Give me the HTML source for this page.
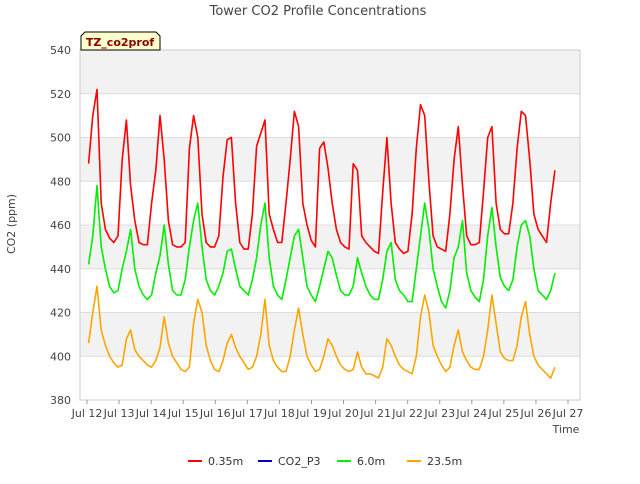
<!DOCTYPE html>
<html><head><meta charset="utf-8"><style>
body{margin:0;background:#fff;font-family:"DejaVu Sans","Liberation Sans",sans-serif;}
svg text{font-family:"DejaVu Sans","Liberation Sans",sans-serif;}
</style></head><body>
<svg id="chart" width="640" height="480" xmlns="http://www.w3.org/2000/svg">
<text x="318" y="15" text-anchor="middle" font-size="13" fill="#444">Tower CO2 Profile Concentrations</text>
<g id="bands"></g>
<g id="grid"></g>
<rect x="80" y="50" width="500" height="350" fill="none" stroke="#ccc"/>
<g id="yticks"></g><g id="xticks"></g>
<g id="series"></g>
<text x="15" y="224" transform="rotate(-90 15 224)" text-anchor="middle" font-size="11" fill="#444">CO2 (ppm)</text>
<text x="566" y="433" text-anchor="middle" font-size="11" fill="#444">Time</text>
<g>
<path d="M81,50 L81,36 L85,32 L156,32 L160,36 L160,50 Z" fill="#ffffcc" stroke="#000"/>
<text x="120" y="46" text-anchor="middle" font-size="11" font-weight="bold" fill="#8b0000">TZ_co2prof</text>
</g>
<g id="legend"></g>
</svg>
<script>
const NS="http://www.w3.org/2000/svg";
const startDay=12.05, stepDay=0.131;
const yTicks=[380,400,420,440,460,480,500,520,540];
const xTickDays=[12,13,14,15,16,17,18,19,20,21,22,23,24,25,26,27];
const xTickLabels=["Jul 12","Jul 13","Jul 14","Jul 15","Jul 16","Jul 17","Jul 18","Jul 19","Jul 20","Jul 21","Jul 22","Jul 23","Jul 24","Jul 25","Jul 26","Jul 27"];
const seriesNames=["0.35m","CO2_P3","6.0m","23.5m"];
const red=[488,510,522,470,458,454,452,455, 490,508,478,462,452,451,451,470, 485,510,490,462,451,450,450,452, 495,510,500,465,452,450,450,455, 482,499,500,470,452,449,449,465, 496,502,508,465,458,452,452,470, 490,512,505,470,460,453,450,495, 498,486,470,458,452,450,449,488, 485,455,452,450,448,447,475,500, 470,452,449,447,448,465,495,515, 510,480,455,450,449,448,465,490, 505,478,455,451,451,452,475,500, 505,470,458,456,456,470,495,512, 510,490,465,458,455,452,470,485];
const p3=[];
const green=[442,455,478,450,440,432,429,430, 440,448,458,440,432,428,426,428, 438,446,460,442,430,428,428,435, 450,462,470,450,435,430,428,432, 438,448,449,440,432,430,428,435, 445,460,470,445,432,428,426,435, 445,455,458,445,432,428,425,432, 440,448,445,437,430,428,428,432, 445,438,432,428,426,426,435,448, 452,435,430,428,425,425,440,455, 470,458,440,432,425,422,430,445, 450,462,438,430,427,425,435,455, 468,450,436,432,430,435,450,460, 462,455,440,430,428,426,430,438];
const orange=[406,420,432,412,405,400,397,395, 396,408,412,403,400,398,396,395, 398,404,418,406,400,397,394,393, 395,415,426,420,405,398,394,393, 398,406,410,404,400,397,394,395, 400,410,426,405,398,395,393,393, 400,412,422,410,400,396,393,394, 400,408,405,400,396,394,393,394, 402,395,392,392,391,390,395,408, 405,400,396,394,393,392,400,418, 428,420,405,400,396,393,395,405, 412,402,398,395,394,394,400,412, 428,415,402,399,398,398,405,418, 425,410,400,396,394,392,390,395];
const colors=["#ff0000","#0000cc","#00ee00","#ffa500"];
const X0=80,X1=580,Y0=400,Y1=50;
const xs=d=>87+(d-12)*(568-87)/15;
const ys=v=>Y0-(v-380)/(540-380)*(Y0-Y1);
const mk=(t,a,p)=>{const e=document.createElementNS(NS,t);for(const k in a)e.setAttribute(k,a[k]);(p||document.getElementById('chart')).appendChild(e);return e;};
const bands=document.getElementById('bands');
for(let i=0;i<yTicks.length-1;i+=2){const r=mk('rect',{x:X0,y:ys(yTicks[i+1]+20>540?540:yTicks[i+1]+20),width:X1-X0,height:ys(yTicks[i+1])-ys(yTicks[i+1]+20),fill:'#f2f2f2'},bands);

}
const grid=document.getElementById('grid'),yt=document.getElementById('yticks');
yTicks.forEach(v=>{const l=mk('line',{x1:X0,x2:X1,y1:ys(v),y2:ys(v),stroke:'#ddd'},grid);


const t=mk('text',{x:71,y:ys(v)+4,'text-anchor':'end','font-size':11,fill:'#444'},yt);t.textContent=v;

});
const xt=document.getElementById('xticks');
xTickDays.forEach((d,i)=>{const l=mk('line',{x1:xs(d),x2:xs(d),y1:Y0,y2:Y0+4,stroke:'#999'},xt);


const t=mk('text',{x:xs(d),y:417,'text-anchor':'middle','font-size':11,fill:'#444'},xt);t.textContent=xTickLabels[i];

});
const sg=document.getElementById('series');
[red,p3,green,orange].forEach((arr,si)=>{if(!arr.length)return;
const pts=arr.map((v,i)=>xs(startDay+i*stepDay).toFixed(1)+','+ys(v).toFixed(1)).join(' ');
const pl=mk('polyline',{points:pts,fill:'none',stroke:colors[si],'stroke-width':1.6,'stroke-linejoin':'round'},sg);

});
const lg=document.getElementById('legend');
const lx=[188,258,337,407];
seriesNames.forEach((n,i)=>{const g=mk('g',{},lg);


mk('line',{x1:lx[i],x2:lx[i]+14,y1:461,y2:461,stroke:colors[i],'stroke-width':2},g);
const t=mk('text',{x:lx[i]+20,y:465,'font-size':11,fill:'#333'},g);t.textContent=n;});
</script>
</body></html>
